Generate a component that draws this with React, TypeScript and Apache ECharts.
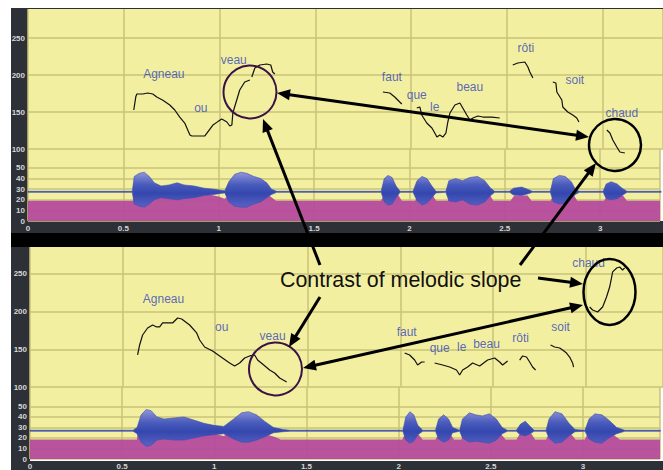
import React, { useEffect, useRef } from 'react';
import * as echarts from 'echarts';

// ---------- tick labels ----------
const timeTicks = [0, 0.5, 1, 1.5, 2, 2.5, 3];
const pitchTicks = [100, 150, 200, 250];
const intensityTicks = [0, 10, 20, 30, 40, 50];

// ---------- words (time s, height Hz) ----------
const wordNames = ['Agneau', 'ou', 'veau', 'faut', 'que', 'le', 'beau', 'rôti', 'soit', 'chaud'];
const topWordTimes = [0.709, 0.902, 1.074, 1.899, 2.029, 2.123, 2.306, 2.598, 2.854, 3.099];
const topWordHz = [201, 155, 220, 197, 173, 157, 184, 236, 193, 149];
const bottomWordTimes = [0.721, 1.035, 1.31, 2.034, 2.212, 2.331, 2.465, 2.649, 2.865, 3.016];
const bottomWordHz = [217, 180, 168, 173, 152, 153, 157, 165, 180, 265];

// ---------- pitch contours, top panel [s, Hz] ----------
const topAgneauVeau = [[0.552,152.7],[0.563,171],[0.568,174.3],[0.599,174.3],[0.625,175.7],[0.651,174.3],[0.672,170.3],[0.704,166],[0.74,159.5],[0.766,152.7],[0.792,143],[0.818,135.1],[0.845,119],[0.855,117.6],[0.923,117.6],[0.965,132.4],[0.991,137],[1.011,140.5],[1.038,136.5],[1.053,131.1],[1.064,132.4],[1.069,148.6],[1.105,179.7],[1.131,190.5],[1.158,193.2]];
const topVeauEnd = [[1.168,197.3],[1.184,209.5],[1.21,213.5],[1.246,214.9],[1.267,213.5],[1.277,204.1],[1.288,201.4]];
const topFaut = [[1.852,177],[1.888,175.7],[1.914,170.3],[1.94,163.5],[1.951,160.8]];
const topQueBeau = [[2.029,155.4],[2.045,156.8],[2.055,145.9],[2.081,135.1],[2.108,128.4],[2.123,121.6],[2.134,116.2],[2.149,118.9],[2.165,116.2],[2.181,121.6],[2.191,136.5],[2.202,148.6],[2.228,159.5],[2.254,162.2],[2.269,155.4],[2.29,145.9],[2.306,139.2],[2.322,141.9],[2.348,144.6],[2.374,143.2],[2.421,143.2],[2.462,141.9]];
const topRoti = [[2.53,213.5],[2.556,216.2],[2.593,217.6],[2.609,210.8],[2.619,204.1],[2.635,195.9]];
const topSoit = [[2.739,190.5],[2.755,189.2],[2.76,177],[2.786,166.2],[2.791,156.8],[2.817,150],[2.843,145.9],[2.864,141.9],[2.875,136.5]];
const topChaud = [[3.021,125.7],[3.037,121.6],[3.052,112.2],[3.073,102.7],[3.089,95.9],[3.115,94.6]];

// ---------- pitch contours, bottom panel [s, Hz] ----------
const bottomAgneauVeau = [[0.581,142.5],[0.592,155.8],[0.608,169],[0.635,178.3],[0.662,182.3],[0.684,179.7],[0.7,179.7],[0.716,185],[0.754,185],[0.77,185],[0.797,191.6],[0.819,190.3],[0.862,182.3],[0.9,171.7],[0.916,162.4],[0.943,153.1],[0.986,147.8],[1.024,141.2],[1.078,131.9],[1.105,127.9],[1.132,131.9],[1.159,138.5],[1.186,141.2],[1.213,142.5],[1.229,135.8],[1.262,129.2],[1.294,122.6],[1.321,118.6],[1.348,111.9],[1.386,106.6]];
const bottomFaut = [[2.023,145.1],[2.05,142.5],[2.077,135.8],[2.093,129.2],[2.115,133.2],[2.131,133.2]];
const bottomQueBeau = [[2.185,131.9],[2.228,129.2],[2.266,126.5],[2.303,122.6],[2.32,115.9],[2.336,122.6],[2.363,126.5],[2.39,131.9],[2.428,127.9],[2.471,135.8],[2.509,138.5],[2.536,133.2],[2.552,129.2],[2.579,134.5]];
const bottomRoti = [[2.644,135.8],[2.66,141.2],[2.681,139.8],[2.698,133.2],[2.714,126.5],[2.73,122.6]];
const bottomSoit = [[2.811,155.8],[2.833,153.1],[2.86,151.8],[2.876,149.1],[2.897,145.1],[2.914,139.8],[2.93,131.9],[2.935,126.5]];
const bottomChaud = [[3.022,206.2],[3.038,202.2],[3.065,199.6],[3.092,206.2],[3.113,219.5],[3.13,232.7],[3.141,246],[3.146,252.7],[3.168,258],[3.184,259.3],[3.2,255.3],[3.211,258]];

// ---------- waveform envelopes ----------
const topWaveTimes = [0,0.531,0.547,0.557,0.584,0.61,0.636,0.662,0.698,0.74,0.782,0.818,0.871,0.923,0.975,1.011,1.032,1.053,1.084,1.116,1.147,1.184,1.22,1.252,1.277,1.304,1.852,1.868,1.888,1.909,1.93,1.951,2.019,2.04,2.066,2.092,2.118,2.139,2.191,2.207,2.243,2.279,2.316,2.358,2.395,2.426,2.447,2.525,2.546,2.588,2.619,2.645,2.739,2.755,2.786,2.817,2.849,2.87,2.891,3.016,3.032,3.058,3.089,3.115,3.141,3.32];
const topWaveUpper = [28,28,28,42,45,46,42,36,33,34,36,34,33,31,30,29,28.5,37,44,46,45,42,40,36,30,28,28,40,43,41,33,28,28,38,42,40,33,28,28,38,40,38,41,42,38,31,28,28,31,32,30,28,28,40,43,42,37,30,28,28,35,37,35,31,28,28];
const topWaveLower = [27,27,27,16,14,13,16,20,22,21,20,21,22,24,25,26,26.5,18,14,13,13,16,18,22,25,27,27,18,15,16,22,27,27,19,15,17,22,26.5,27,19,18,20,16,15,18,24,27,27,24.5,24,25.5,27,27,18,16,17,21,25,27,27,21,20,21,24,27,27];

const bottomWaveTimes = [0,0.559,0.581,0.603,0.63,0.657,0.689,0.727,0.781,0.835,0.889,0.943,0.997,1.051,1.105,1.148,1.186,1.229,1.272,1.321,1.375,1.413,2.023,2.039,2.061,2.082,2.104,2.131,2.2,2.217,2.244,2.271,2.293,2.331,2.346,2.384,2.417,2.455,2.492,2.53,2.562,2.59,2.639,2.66,2.687,2.714,2.735,2.8,2.816,2.848,2.886,2.924,2.957,3.011,3.033,3.065,3.103,3.14,3.183,3.227,3.42];
const bottomWaveUpper = [27.4,27.4,30,42,47,46,40,38,39,40,37,34,32,31,38,44,45,42,36,30,28,27.4,27.4,40,45,42,32,27.4,27.4,38,42,38,30,27.4,38,44,42,41,43,38,30,27.4,27.4,33,36,31,27.4,27.4,38,45,43,34,28,27.4,38,43,42,37,30,27.4,27.4];
const bottomWaveLower = [26.4,26.4,24,16,12,13,18,19,18,18,20,22,23,24,19,16,16,18,21,25,26,26.4,26.4,18,15,17,23,26.4,26.4,19,16,18,25,26.4,20,16,17,16,15,18,24,26.4,26.4,23,22,24,26.4,26.4,20,15,16,22,26,26.4,19,16,15,20,24,26.4,26.4];

// ---------- intensity (magenta) ----------
const topIntensityTimes = [0,0.552,0.556,0.7,0.8,0.95,1.0,1.03,1.06,1.1,1.25,1.28,1.3,1.85,1.87,1.94,1.96,2.03,2.05,2.12,2.14,2.2,2.22,2.3,2.35,2.42,2.44,2.53,2.55,2.62,2.64,2.74,2.76,2.86,2.88,3.02,3.04,3.12,3.14,3.32];
const topIntensity = [19,19,26,26,25,25,23,21,25,27,26,22,19,19,25,25,19,19,25,25,19,19,24,25,26,25,19,19,24,24,19,19,26,25,19,19,24,24,19,19];
const bottomIntensityTimes = [0,0.58,0.585,0.75,0.9,1.0,1.05,1.1,1.25,1.33,1.36,2.02,2.04,2.1,2.13,2.2,2.22,2.28,2.3,2.34,2.36,2.45,2.55,2.58,2.64,2.66,2.72,2.74,2.8,2.82,2.93,2.96,3.01,3.03,3.15,3.2,3.42];
const bottomIntensity = [18.5,18.5,26,25,25,24,22,26,25,21,18.5,18.5,26,25,18.5,18.5,25,24,18.5,18.5,25,26,25,18.5,18.5,25,24,18.5,18.5,26,25,18.5,18.5,26,25,18.5,18.5];

// ---------- styling ----------
const YELLOW = '#f3efa0';
const GRIDLINE = '#c9c377';
const STRIP = '#2d3036';
const MAGENTA = '#b4479e';
const WORD_BLUE = '#3045bd';
const TR = 'rgba(0,0,0,0)';
const LABEL_FONT = '"Liberation Sans", Arial, sans-serif';

const zip = (a: number[], b: number[]) => a.map((v, i) => [v, b[i]]);

function xAxisFor(gridIndex: number, max: number, showLabel: boolean) {
  return {
    type: 'value', gridIndex, min: 0, max, interval: 0.5,
    axisLine: { show: false }, axisTick: { show: false },
    splitLine: { show: true, lineStyle: { color: GRIDLINE, width: 1.5 } },
    axisLabel: {
      show: showLabel, margin: 3, color: '#d6d6d6', fontSize: 8, fontWeight: 'bold', fontFamily: LABEL_FONT,
      formatter: (v: number) => (timeTicks.some((t) => Math.abs(t - v) < 1e-6) ? String(v) : ''),
    },
  };
}

function yAxisFor(gridIndex: number, min: number, max: number, interval: number, ticks: number[], colors: string[]) {
  return {
    type: 'value', gridIndex, min, max, interval,
    axisLine: { show: false }, axisTick: { show: false },
    splitLine: { show: true, lineStyle: { color: colors, width: 1.5 } },
    axisLabel: {
      margin: 3, color: '#d6d6d6', fontSize: 8, fontWeight: 'bold', fontFamily: LABEL_FONT,
      formatter: (v: number) => (ticks.some((t) => Math.abs(t - v) < 1e-6) ? String(v) : ''),
    },
  };
}

function pitchLine(data: number[][], axis: number) {
  return {
    type: 'line', xAxisIndex: axis, yAxisIndex: axis, data, symbol: 'none', clip: false, silent: true,
    lineStyle: { color: '#111', width: 1.2 }, z: 5,
  };
}

function waveBand(times: number[], upper: number[], lower: number[], axis: number) {
  return {
    type: 'custom', xAxisIndex: axis, yAxisIndex: axis, data: [[0, 0]], silent: true, z: 3, clip: false,
    renderItem: (_p: any, api: any) => {
      const pts: number[][] = [];
      times.forEach((t, i) => pts.push(api.coord([t, upper[i]])));
      for (let i = times.length - 1; i >= 0; i--) pts.push(api.coord([times[i], lower[i]]));
      return {
        type: 'polygon', shape: { points: pts },
        style: {
          fill: new echarts.graphic.LinearGradient(0, 0, 0, 1, [
            { offset: 0, color: '#9296da' },
            { offset: 0.35, color: '#4a5cbc' },
            { offset: 0.6, color: '#3447ae' },
            { offset: 1, color: '#5a62c2' },
          ]),
          stroke: '#3a4db2', lineWidth: 0.6,
        },
      };
    },
  };
}

function intensityArea(times: number[], vals: number[], axis: number) {
  return {
    type: 'line', xAxisIndex: axis, yAxisIndex: axis, data: zip(times, vals), symbol: 'none', silent: true,
    lineStyle: { width: 0 }, areaStyle: { color: MAGENTA, opacity: 0.93 }, z: 2,
  };
}

function wordSeries(times: number[], hz: number[], axis: number) {
  return {
    type: 'scatter', xAxisIndex: axis, yAxisIndex: axis, symbolSize: 0, silent: true, z: 6,
    data: times.map((t, i) => ({ name: wordNames[i], value: [t, hz[i]] })),
    label: {
      show: true, position: [0, 0], align: 'center', verticalAlign: 'middle',
      formatter: (p: any) => p.name, color: WORD_BLUE, fontSize: 12, fontFamily: LABEL_FONT,
    },
  };
}

function arrow(x1: number, y1: number, x2: number, y2: number, both: boolean) {
  const els: any[] = [];
  const len = 13, half = 5.5;
  const head = (tx: number, ty: number, fx: number, fy: number) => {
    const dx = tx - fx, dy = ty - fy, L = Math.hypot(dx, dy);
    const ux = dx / L, uy = dy / L;
    const bx = tx - ux * len, by = ty - uy * len;
    return {
      type: 'polygon', z: 100,
      shape: { points: [[tx, ty], [bx - uy * half, by + ux * half], [bx + uy * half, by - ux * half]] },
      style: { fill: '#000' },
    };
  };
  const dx = x2 - x1, dy = y2 - y1, L = Math.hypot(dx, dy);
  const ux = dx / L, uy = dy / L;
  const sx = both ? x1 + ux * 9 : x1, sy = both ? y1 + uy * 9 : y1;
  const ex = x2 - ux * 9, ey = y2 - uy * 9;
  els.push({ type: 'line', z: 100, shape: { x1: sx, y1: sy, x2: ex, y2: ey }, style: { stroke: '#000', lineWidth: 3 } });
  els.push(head(x2, y2, x1, y1));
  if (both) els.push(head(x1, y1, x2, y2));
  return els;
}

const TOP_XMAX = 3.314;
const BOT_XMAX = 3.418;

function buildOption() {
  const pitchColors = [GRIDLINE, GRIDLINE, GRIDLINE, GRIDLINE, TR];
  const intColors = [GRIDLINE, GRIDLINE, GRIDLINE, GRIDLINE, GRIDLINE, GRIDLINE, TR, TR];
  const grid = (left: number, top: number, height: number) => ({
    left, right: 0, top, height, show: true, backgroundColor: YELLOW, borderWidth: 0,
  });
  return {
    animation: false,
    backgroundColor: '#ffffff',
    grid: [grid(28, 9, 140), grid(28, 149, 72), grid(30, 247, 140), grid(30, 387, 74)],
    xAxis: [xAxisFor(0, TOP_XMAX, false), xAxisFor(1, TOP_XMAX, true), xAxisFor(2, BOT_XMAX, false), xAxisFor(3, BOT_XMAX, true)],
    yAxis: [
      yAxisFor(0, 100, 289.2, 50, pitchTicks, pitchColors),
      yAxisFor(1, 0, 67.9, 10, intensityTicks, intColors),
      yAxisFor(2, 100, 285.8, 50, pitchTicks, pitchColors),
      yAxisFor(3, 0, 68.5, 10, intensityTicks, intColors),
    ],
    series: [
      intensityArea(topIntensityTimes, topIntensity, 1),
      waveBand(topWaveTimes, topWaveUpper, topWaveLower, 1),
      pitchLine(topAgneauVeau, 0), pitchLine(topVeauEnd, 0), pitchLine(topFaut, 0), pitchLine(topQueBeau, 0),
      pitchLine(topRoti, 0), pitchLine(topSoit, 0), pitchLine(topChaud, 0),
      wordSeries(topWordTimes, topWordHz, 0),
      intensityArea(bottomIntensityTimes, bottomIntensity, 3),
      waveBand(bottomWaveTimes, bottomWaveUpper, bottomWaveLower, 3),
      pitchLine(bottomAgneauVeau, 2), pitchLine(bottomFaut, 2), pitchLine(bottomQueBeau, 2),
      pitchLine(bottomRoti, 2), pitchLine(bottomSoit, 2), pitchLine(bottomChaud, 2),
      wordSeries(bottomWordTimes, bottomWordHz, 2),
    ],
    graphic: [
      { type: 'rect', z: -1, shape: { x: 11, y: 8, width: 652, height: 1 }, style: { fill: STRIP } },
      { type: 'rect', z: -1, shape: { x: 11, y: 8, width: 17, height: 225 }, style: { fill: STRIP } },
      { type: 'rect', z: -1, shape: { x: 11, y: 221, width: 652, height: 12 }, style: { fill: STRIP } },
      { type: 'rect', z: -1, shape: { x: 11, y: 233, width: 652, height: 14 }, style: { fill: '#000' } },
      { type: 'rect', z: -1, shape: { x: 11, y: 247, width: 19, height: 223 }, style: { fill: STRIP } },
      { type: 'rect', z: -1, shape: { x: 11, y: 461, width: 652, height: 9 }, style: { fill: STRIP } },
      // circles
      { type: 'circle', z: 100, shape: { cx: 250, cy: 92, r: 26.5 }, style: { fill: 'none', stroke: '#3a1246', lineWidth: 2 } },
      { type: 'circle', z: 100, shape: { cx: 615, cy: 145, r: 26 }, style: { fill: 'none', stroke: '#000', lineWidth: 2.5 } },
      { type: 'circle', z: 100, shape: { cx: 275.5, cy: 369, r: 26.5 }, style: { fill: 'none', stroke: '#3a1246', lineWidth: 2 } },
      { type: 'ellipse', z: 100, shape: { cx: 609.5, cy: 292, rx: 26, ry: 33 }, style: { fill: 'none', stroke: '#000', lineWidth: 2.5 } },
      // arrows
      ...arrow(277, 93, 589, 137, true),
      ...arrow(320, 265, 263, 119, false),
      ...arrow(520, 265, 596, 163, false),
      ...arrow(320, 297, 289, 347, false),
      ...arrow(303, 368, 583, 305, true),
      ...arrow(538, 278, 583, 284, false),
      {
        type: 'text', z: 100,
        style: {
          text: 'Contrast of melodic slope', x: 280, y: 279.5, fill: '#111',
          font: '21.4px "Liberation Sans", Arial, sans-serif', textVerticalAlign: 'middle', textAlign: 'left',
        },
      },
    ],
  };
}

export default function App() {
  const ref = useRef<HTMLDivElement>(null);
  useEffect(() => {
    if (!ref.current) return;
    const chart = echarts.init(ref.current, null, { renderer: 'svg' });
    chart.setOption(buildOption() as any);
    return () => chart.dispose();
  }, []);
  return (
    <div
      ref={ref}
      style={{ position: 'fixed', left: 0, top: 0, width: 663, height: 470, background: '#fff' }}
    />
  );
}
